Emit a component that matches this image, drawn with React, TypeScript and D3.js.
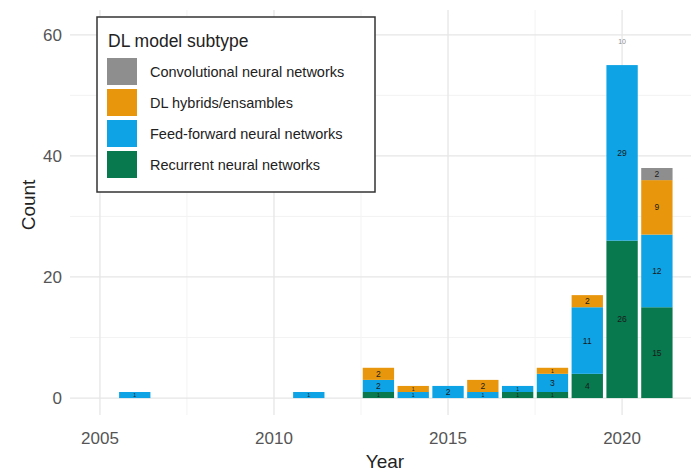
import React from "react";
import * as d3 from "d3";

const years = [2006, 2011, 2013, 2014, 2015, 2016, 2017, 2018, 2019, 2020, 2021];
const recurrent = [0, 0, 1, 0, 0, 0, 1, 1, 4, 26, 15];
const feedForward = [1, 1, 2, 1, 2, 1, 1, 3, 11, 29, 12];
const hybrids = [0, 0, 2, 1, 0, 2, 0, 1, 2, 0, 9];
const convolutional = [0, 0, 0, 0, 0, 0, 0, 0, 0, 0, 2];

const subtypes = [
  "Convolutional neural networks",
  "DL hybrids/ensambles",
  "Feed-forward neural networks",
  "Recurrent neural networks",
];
const subtypeColors = ["#8e8e8e", "#e8960c", "#0ea3e4", "#08784f"];
// stack order, bottom first
const stackKeys = ["rnn", "ff", "hyb", "cnn"];
const keyColor: Record<string, string> = { cnn: "#8e8e8e", hyb: "#e8960c", ff: "#0ea3e4", rnn: "#08784f" };

const xTicks = [2005, 2010, 2015, 2020];
const xMinor = [2007.5, 2012.5, 2017.5];
const yTicks = [0, 20, 40, 60];
const yMinor = [10, 30, 50];

const W = 691;
const H = 472;
const font = "'Liberation Sans', Arial, sans-serif";

export default function App() {
  const rows = years.map((year, i) => ({
    year,
    rnn: recurrent[i],
    ff: feedForward[i],
    hyb: hybrids[i],
    cnn: convolutional[i],
  }));
  const series = d3.stack<any>().keys(stackKeys)(rows);

  const x = d3.scaleLinear().domain([2004.14, 2021.98]).range([70, 691]);
  const y = d3.scaleLinear().domain([-2.8, 64.1]).range([415, 10]);
  const barW = x(2006.9) - x(2006);

  return (
    <svg width={W} height={H} style={{ position: "absolute", left: 0, top: 0, background: "#fff" }} fontFamily={font}>
      {/* grid */}
      {yMinor.map((t) => (
        <line key={"ym" + t} x1={70} x2={W} y1={y(t)} y2={y(t)} stroke="#f3f3f3" strokeWidth={1} />
      ))}
      {xMinor.map((t) => (
        <line key={"xm" + t} x1={x(t)} x2={x(t)} y1={10} y2={415} stroke="#f3f3f3" strokeWidth={1} />
      ))}
      {yTicks.map((t) => (
        <line key={"y" + t} x1={70} x2={W} y1={y(t)} y2={y(t)} stroke="#e6e6e6" strokeWidth={1.3} />
      ))}
      {xTicks.map((t) => (
        <line key={"x" + t} x1={x(t)} x2={x(t)} y1={10} y2={415} stroke="#e6e6e6" strokeWidth={1.3} />
      ))}

      {/* bars */}
      {series.map((s) =>
        s.map((d, i) => {
          const v = d[1] - d[0];
          if (v <= 0) return null;
          return (
            <rect
              key={s.key + i}
              x={x(years[i]) - barW / 2}
              y={y(d[1])}
              width={barW}
              height={y(d[0]) - y(d[1])}
              fill={keyColor[s.key]}
            />
          );
        })
      )}
      {series.map((s) =>
        s.map((d, i) => {
          const v = d[1] - d[0];
          if (v <= 0) return null;
          const segH = y(d[0]) - y(d[1]);
          const fs = Math.min(8.5, segH * 0.85);
          return (
            <text
              key={"l" + s.key + i}
              x={x(years[i])}
              y={y((d[0] + d[1]) / 2) + fs * 0.35}
              textAnchor="middle"
              fontSize={fs}
              fill="#1a1a1a"
            >
              {v}
            </text>
          );
        })
      )}
      <text x={x(2020)} y={y(59) + 3} textAnchor="middle" fontSize={7} fill="#8e8e8e">
        10
      </text>

      {/* axes labels */}
      {yTicks.map((t) => (
        <text key={"yt" + t} x={62} y={y(t) + 6} textAnchor="end" fontSize={17} fill="#555">
          {t}
        </text>
      ))}
      {xTicks.map((t) => (
        <text key={"xt" + t} x={x(t)} y={444} textAnchor="middle" fontSize={17} fill="#555">
          {t}
        </text>
      ))}
      <text x={385} y={468} textAnchor="middle" fontSize={19} fill="#222">
        Year
      </text>
      <text transform="translate(35,205) rotate(-90)" textAnchor="middle" fontSize={19} fill="#222">
        Count
      </text>

      {/* legend */}
      <rect x={97} y={17} width={278} height={175} fill="#fff" stroke="#333" strokeWidth={1.5} />
      <text x={108} y={47} fontSize={17.5} fill="#222">
        DL model subtype
      </text>
      {subtypes.map((name, i) => (
        <g key={name} transform={`translate(107,${58 + i * 31})`}>
          <rect width={30} height={27} fill={subtypeColors[i]} />
          <text x={43} y={19} fontSize={14.5} fill="#222">
            {name}
          </text>
        </g>
      ))}
    </svg>
  );
}
